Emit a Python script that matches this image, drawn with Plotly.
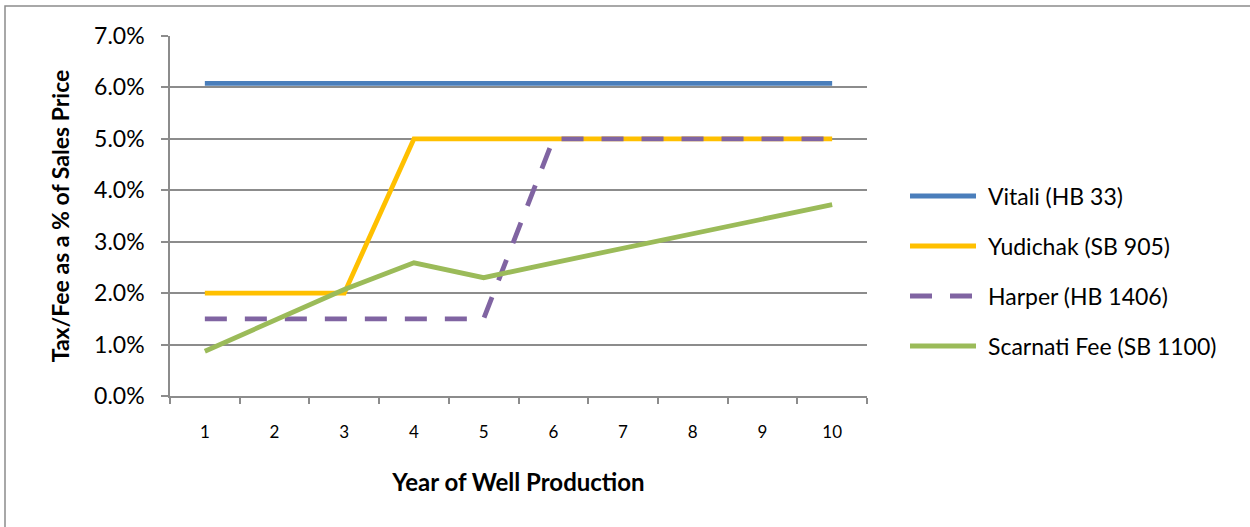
import plotly.graph_objects as go

# Year of well production (categories on the x axis)
years = ["1", "2", "3", "4", "5", "6", "7", "8", "9", "10"]

# Tax / fee as a percent of sales price, per proposal
vitali = [6.08, 6.08, 6.08, 6.08, 6.08, 6.08, 6.08, 6.08, 6.08, 6.08]
yudichak = [2.0, 2.0, 2.0, 5.0, 5.0, 5.0, 5.0, 5.0, 5.0, 5.0]
harper = [1.5, 1.5, 1.5, 1.5, 1.5, 5.0, 5.0, 5.0, 5.0, 5.0]
scarnati = [0.87, 1.48, 2.07, 2.59, 2.30, 2.59, 2.87, 3.15, 3.44, 3.72]

series_names = ["Vitali (HB 33)", "Yudichak (SB 905)", "Harper (HB 1406)", "Scarnati Fee (SB 1100)"]
series_values = [vitali, yudichak, harper, scarnati]
series_colors = ["#4A7EBB", "#FFC000", "#8064A2", "#9BBB59"]
series_dash = ["solid", "solid", "22px,18px", "solid"]

y_ticks = [0, 1, 2, 3, 4, 5, 6, 7]
y_tick_labels = ["0.0%", "1.0%", "2.0%", "3.0%", "4.0%", "5.0%", "6.0%", "7.0%"]

W, H = 1250, 527
ML, MR, MT, MB = 170, 383, 36, 131
PW, PH = W - ML - MR, H - MT - MB
FONT = "Lato, 'Open Sans', sans-serif"
GRID = "#8C8C8C"


def px_x(px):
    return (px - ML) / PW


def px_y(py):
    return (H - MB - py) / PH


fig = go.Figure()
for name, vals, color, dash in zip(series_names, series_values, series_colors, series_dash):
    fig.add_trace(go.Scatter(
        x=years, y=vals, name=name, mode="lines",
        line=dict(color=color, width=4.8, dash=dash),
        showlegend=False, hoverinfo="x+y+name",
    ))

# Legend drawn by hand so the sample lines match the long Office-style keys
shapes = []
annotations = []
for i, (name, color, dash) in enumerate(zip(series_names, series_colors, series_dash)):
    yy = 196 + 50 * i
    shapes.append(dict(
        type="line", xref="paper", yref="paper",
        x0=px_x(910), x1=px_x(976), y0=px_y(yy), y1=px_y(yy),
        line=dict(color=color, width=4.8, dash=dash),
    ))
    annotations.append(dict(
        xref="paper", yref="paper", x=px_x(986), y=px_y(yy),
        xanchor="left", yanchor="middle", text=name, showarrow=False,
        font=dict(family=FONT, size=23, color="#000000"),
    ))

# Outer chart frame
shapes.append(dict(
    type="rect", xref="paper", yref="paper", layer="below",
    x0=px_x(5), x1=px_x(W + 10), y0=px_y(H + 10), y1=px_y(6),
    line=dict(color="#8C8C8C", width=1.5), fillcolor="rgba(0,0,0,0)",
))

fig.update_layout(
    width=W, height=H,
    margin=dict(l=ML, r=MR, t=MT, b=MB, pad=0),
    paper_bgcolor="white", plot_bgcolor="white",
    font=dict(family=FONT, color="#000000"),
    shapes=shapes, annotations=annotations,
    showlegend=False,
    xaxis=dict(
        type="category", tickson="boundaries",
        range=[-0.5, 9.5],
        showgrid=False, zeroline=False,
        showline=True, linecolor=GRID, linewidth=1.5,
        ticks="outside", ticklen=6, tickcolor=GRID, tickwidth=1.5,
        tickfont=dict(family=FONT, size=17),
        ticklabelstandoff=20,
        title=dict(text="<b>Year of Well Production</b>",
                   font=dict(family=FONT, size=24), standoff=33),
    ),
    yaxis=dict(
        range=[0, 7], tickvals=y_ticks, ticktext=y_tick_labels,
        showgrid=True, gridcolor=GRID, gridwidth=1.5,
        zeroline=False,
        showline=True, linecolor=GRID, linewidth=1.5,
        ticks="outside", ticklen=7, tickcolor=GRID, tickwidth=1.5,
        tickfont=dict(family=FONT, size=23),
        ticklabelstandoff=12,
        title=dict(text="<b>Tax/Fee as a % of Sales Price</b>",
                   font=dict(family=FONT, size=23), standoff=18),
    ),
)

fig.write_html("out.html")
